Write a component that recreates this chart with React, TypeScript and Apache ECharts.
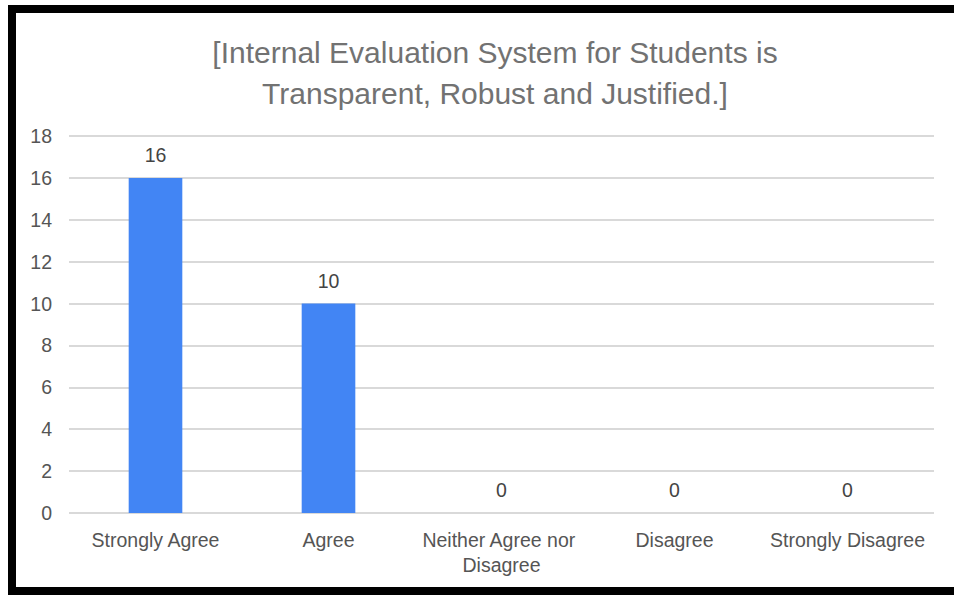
import React, { useEffect, useRef } from "react";
import * as echarts from "echarts";

const titleLines = [
  "[Internal Evaluation System for Students is",
  "Transparent, Robust and Justified.]",
];
const categories = [
  "Strongly Agree",
  "Agree",
  "Neither Agree nor Disagree",
  "Disagree",
  "Strongly Disagree",
];
const counts = [16, 10, 0, 0, 0];
const yTicks = { min: 0, max: 18, interval: 2 };

const FONT = "'Liberation Sans', Arial, sans-serif";

export default function App() {
  const ref = useRef<HTMLDivElement>(null);
  useEffect(() => {
    if (!ref.current) return;
    const chart = echarts.init(ref.current, null, { renderer: "svg" });
    chart.setOption({
      animation: false,
      backgroundColor: "#ffffff",
      textStyle: { fontFamily: FONT },
      title: {
        text: titleLines.join("\n"),
        left: 490,
        top: 27,
        textAlign: "center",
        textStyle: {
          fontFamily: FONT,
          fontSize: 30,
          fontWeight: "normal",
          color: "#727272",
          lineHeight: 41,
        },
      },
      grid: { left: 69, right: 20, top: 136, bottom: 82, containLabel: false },
      xAxis: {
        type: "category",
        data: categories,
        axisLine: { show: false },
        axisTick: { show: false },
        axisLabel: {
          fontFamily: FONT,
          fontSize: 19.5,
          color: "#555555",
          margin: 14,
          lineHeight: 25,
          width: 168,
          overflow: "break",
          interval: 0,
        },
      },
      yAxis: {
        type: "value",
        min: yTicks.min,
        max: yTicks.max,
        interval: yTicks.interval,
        axisLine: { show: false },
        axisTick: { show: false },
        axisLabel: {
          fontFamily: FONT,
          fontSize: 19.5,
          color: "#555555",
          margin: 17,
        },
        splitLine: { lineStyle: { color: "#d9d9d9", width: 2 } },
      },
      series: [
        {
          type: "bar",
          data: counts,
          barWidth: "31%",
          itemStyle: { color: "#4285f4" },
          label: {
            show: true,
            position: "top",
            distance: 13,
            fontFamily: FONT,
            fontSize: 19.5,
            color: "#444444",
          },
        },
      ],
    });
    return () => chart.dispose();
  }, []);
  return (
    <div
      style={{
        position: "fixed",
        left: 0,
        top: 0,
        width: 954,
        height: 595,
        background: "#ffffff",
        overflow: "hidden",
      }}
    >
      <div ref={ref} style={{ position: "absolute", left: 0, top: 0, width: 954, height: 595 }} />
      <div
        style={{
          position: "absolute",
          left: 8,
          top: 5,
          width: 946,
          height: 590,
          boxSizing: "border-box",
          borderLeft: "8px solid #000",
          borderTop: "8px solid #000",
          borderBottom: "8px solid #000",
          pointerEvents: "none",
        }}
      />
    </div>
  );
}
